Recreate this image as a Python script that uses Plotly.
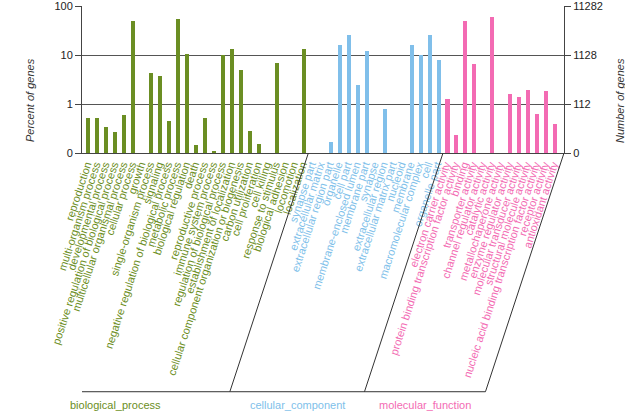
import plotly.graph_objects as go

bp_terms = ["reproduction", "multi-organism process", "developmental process",
            "positive regulation of biological process", "multicellular organismal process",
            "cellular process", "growth", "single-organism process", "signaling",
            "negative regulation of biological process", "metabolic process",
            "biological regulation", "death", "reproductive process", "immune system process",
            "regulation of biological process", "establishment of localization",
            "cellular component organization or biogenesis", "carbon utilization",
            "cell proliferation", "cell killing", "response to stimulus",
            "biological adhesion", "locomotion", "localization"]
bp_values = [0.53, 0.51, 0.34, 0.27, 0.60, 49.4, None, 4.4, 3.7, 0.46, 56.0, 10.5, 0.144,
             0.53, 0.108, 10.0, 13.7, 4.9, 0.28, 0.15, None, 6.9, None, None, 13.7]

cc_terms = ["synapse part", "extracellular matrix", "extracellular region part", "organelle",
            "cell part", "membrane-enclosed lumen", "membrane part", "synapse",
            "extracellular region", "extracellular matrix part", "nucleoid", "membrane",
            "macromolecular complex", "cell", "organelle part"]
cc_values = [None, None, 0.17, 15.8, 26.5, 2.5, 12.2, None, 0.78, None, None, 16.2, 10.3,
             26.5, 7.8]

mf_terms = ["electron carrier activity", "protein binding transcription factor activity",
            "binding", "transporter activity", "channel regulator activity",
            "catalytic activity", "metallochaperone activity", "enzyme regulator activity",
            "molecular transducer activity", "structural molecule activity",
            "nucleic acid binding transcription factor activity", "receptor activity",
            "antioxidant activity"]
mf_values = [1.25, 0.23, 49.4, 6.5, None, 61.6, None, 1.6, 1.41, 1.93, 0.62, 1.84, 0.39]

group_names = ["biological_process", "cellular_component", "molecular_function"]
group_colors = ["#6b8e23", "#80bfea", "#f36bb3"]

pct_ticks = [0.1, 1, 10, 100]
pct_labels = ["0", "1", "10", "100"]
num_labels = ["0", "112", "1128", "11282"]

FONT = "Arial, Liberation Sans, sans-serif"

groups = [(bp_terms, bp_values), (cc_terms, cc_values), (mf_terms, mf_values)]

fig = go.Figure()
tickvals, ticktext = [], []
starts = []
pos = 0
for (terms, vals), color in zip(groups, group_colors):
    xs = list(range(pos, pos + len(terms)))
    starts.append(pos)
    fig.add_trace(go.Bar(x=xs, y=vals, marker_color=color, width=0.45,
                         showlegend=False, marker_line_width=0))
    for x, t in zip(xs, terms):
        tickvals.append(x)
        ticktext.append(f"<span style='color:{color}'>{t}</span>")
    pos += len(terms)
n_total = pos

# invisible trace to activate right axis
fig.add_trace(go.Scatter(x=[0], y=[1], yaxis="y2", mode="markers",
                         marker=dict(opacity=0), showlegend=False, hoverinfo="skip"))

yr = [-1.0, 2.006]
fig.update_layout(
    width=625, height=412,
    margin=dict(l=82, r=61, t=6, b=259, autoexpand=False),
    paper_bgcolor="white", plot_bgcolor="white",
    font=dict(family=FONT, size=11, color="#333"),
    bargap=0,
    xaxis=dict(range=[-0.72, n_total - 0.02], tickvals=tickvals, ticktext=ticktext,
               tickangle=-72, tickfont=dict(size=11, family=FONT), automargin=False,
               ticklabelshift=-2,
               showline=True, linecolor="#444", linewidth=1, ticks="",
               showgrid=False, zeroline=False, fixedrange=True),
    yaxis=dict(type="log", range=yr, tickmode="array", tickvals=pct_ticks,
               ticktext=pct_labels, automargin=False,
               showline=True, linecolor="#444", linewidth=1, ticks="outside",
               ticklen=6, tickcolor="#444", showgrid=True, gridcolor="#555",
               gridwidth=1, tickfont=dict(size=11, color="#222")),
    yaxis2=dict(type="log", range=yr, tickmode="array", tickvals=pct_ticks,
                ticktext=num_labels, automargin=False,
                overlaying="y", side="right", showline=True, linecolor="#444",
                linewidth=1, ticks="outside", ticklen=6, tickcolor="#444",
                showgrid=False, tickfont=dict(size=11, color="#222")),
)

# parallelogram frame under category labels
slant = 8.75
y_bot = -1.624
tops = [-0.9, starts[1] - 0.5, starts[2] - 0.5, n_total - 0.02]
for t in tops:
    fig.add_shape(type="line", xref="x", yref="paper", x0=t, y0=0, x1=t - slant, y1=y_bot,
                  line=dict(color="#333", width=1))
fig.add_shape(type="line", xref="x", yref="paper", x0=tops[0] - slant, y0=y_bot,
              x1=tops[-1] - slant, y1=y_bot, line=dict(color="#333", width=1))

for i, (name, color) in enumerate(zip(group_names, group_colors)):
    cx = (tops[i] + tops[i + 1]) / 2 - slant
    fig.add_annotation(x=cx, y=-1.714, xref="x", yref="paper", text=name,
                       showarrow=False, font=dict(size=11, color=color, family=FONT),
                       xanchor="center", yanchor="middle")

fig.add_annotation(x=-0.108, y=0.36, xref="paper", yref="paper",
                   text="<i>Percent of genes</i>", textangle=-90, showarrow=False,
                   font=dict(size=11, color="#333"), xanchor="center", yanchor="middle")
fig.add_annotation(x=1.116, y=0.36, xref="paper", yref="paper",
                   text="<i>Number of genes</i>", textangle=-90, showarrow=False,
                   font=dict(size=11, color="#333"), xanchor="center", yanchor="middle")

fig.write_html("out.html", config={"displayModeBar": False},
               post_script="document.body.style.margin='0';")
